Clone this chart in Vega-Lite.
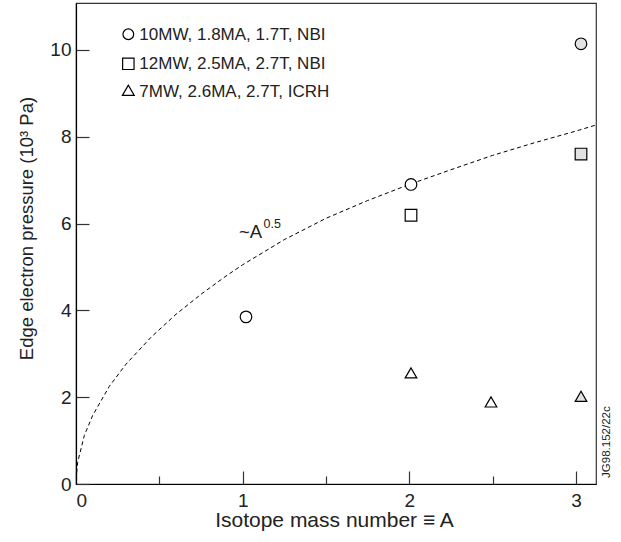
{
  "$schema": "https://vega.github.io/schema/vega-lite/v6.json",
  "autosize": "none",
  "width": 520,
  "height": 481,
  "padding": {"left": 76, "top": 3, "right": 25, "bottom": 58},
  "background": "white",
  "config": {
    "font": "Liberation Sans",
    "view": {"stroke": "#333", "strokeWidth": 1.2},
    "axis": {"grid": false, "domainColor": "black", "domainWidth": 1.2, "tickColor": "#333", "tickWidth": 1.2, "labelColor": "#222", "titleColor": "#222", "labelFont": "Liberation Sans", "titleFont": "Liberation Sans", "titleFontWeight": "normal", "labelFontSize": 19, "titleFontSize": 18.5}
  },
  "datasets": {
    "points": [
      {"A": 1.02, "p": 3.85, "series": "10MW, 1.8MA, 1.7T, NBI"},
      {"A": 2.01, "p": 6.90, "series": "10MW, 1.8MA, 1.7T, NBI"},
      {"A": 3.03, "p": 10.14, "series": "10MW, 1.8MA, 1.7T, NBI"},
      {"A": 2.01, "p": 6.19, "series": "12MW, 2.5MA, 2.7T, NBI"},
      {"A": 3.03, "p": 7.60, "series": "12MW, 2.5MA, 2.7T, NBI"},
      {"A": 2.01, "p": 2.56, "series": "7MW, 2.6MA, 2.7T, ICRH"},
      {"A": 2.49, "p": 1.89, "series": "7MW, 2.6MA, 2.7T, ICRH"},
      {"A": 3.03, "p": 2.02, "series": "7MW, 2.6MA, 2.7T, ICRH"}
    ],
    "curve": [
      {"A": 0.0, "p": 0.1},
      {"A": 0.01, "p": 0.5},
      {"A": 0.05, "p": 1.12},
      {"A": 0.1, "p": 1.58},
      {"A": 0.2, "p": 2.25},
      {"A": 0.3, "p": 2.76},
      {"A": 0.45, "p": 3.38},
      {"A": 0.6, "p": 3.91},
      {"A": 0.75, "p": 4.37},
      {"A": 0.9, "p": 4.79},
      {"A": 1.0, "p": 5.05},
      {"A": 1.25, "p": 5.63},
      {"A": 1.5, "p": 6.12},
      {"A": 1.75, "p": 6.53},
      {"A": 2.0, "p": 6.9},
      {"A": 2.25, "p": 7.24},
      {"A": 2.5, "p": 7.57},
      {"A": 2.75, "p": 7.86},
      {"A": 3.0, "p": 8.13},
      {"A": 3.12, "p": 8.27}
    ],
    "one": [{}]
  },
  "layer": [
    {
      "data": {"name": "curve"},
      "mark": {"type": "line", "color": "black", "strokeWidth": 1, "strokeDash": [4, 3], "clip": true},
      "encoding": {
        "x": {
          "field": "A", "type": "quantitative",
          "scale": {"domain": [0, 3.12], "nice": false, "zero": true},
          "axis": {
            "values": [0, 0.5, 1, 1.5, 2, 2.5, 3],
            "tickSize": {"condition": {"test": "datum.value % 1 !== 0", "value": -8}, "value": -13},
            "labelExpr": "datum.value % 1 === 0 ? format(datum.value, 'd') : ''",
            "labelPadding": 20,
            "title": "Isotope mass number ≡ A",
            "titleFontSize": 21,
            "titleX": 258,
            "titleY": 42,
            "titleBaseline": "alphabetic",
            "titleAlign": "center"
          }
        },
        "y": {
          "field": "p", "type": "quantitative",
          "scale": {"domain": [0, 11.08], "nice": false, "zero": true},
          "axis": {
            "values": [0, 2, 4, 6, 8, 10],
            "tickSize": -13,
            "labelPadding": 18,
            "title": "Edge electron pressure (10³ Pa)",
            "titleX": -44,
            "titleY": 225,
            "titleAngle": 270,
            "titleAlign": "center",
            "titleBaseline": "alphabetic"
          }
        }
      }
    },
    {
      "data": {"name": "points"},
      "mark": {"type": "point", "filled": true, "stroke": "black", "strokeWidth": 1.2, "size": 135, "opacity": 1},
      "encoding": {
        "x": {"field": "A", "type": "quantitative"},
        "y": {"field": "p", "type": "quantitative"},
        "shape": {
          "field": "series", "type": "nominal",
          "scale": {
            "domain": ["10MW, 1.8MA, 1.7T, NBI", "12MW, 2.5MA, 2.7T, NBI", "7MW, 2.6MA, 2.7T, ICRH"],
            "range": ["circle", "square", "triangle-up"]
          },
          "legend": null
        },
        "fill": {"condition": {"test": "datum.A > 2.9", "value": "#e2e2e2"}, "value": "white"}
      }
    },
    {
      "data": {"name": "one"},
      "mark": {"type": "point", "shape": "circle", "size": 115, "filled": true, "fill": "white", "stroke": "black", "strokeWidth": 1.2, "opacity": 1},
      "encoding": {"x": {"datum": 0.314}, "y": {"datum": 10.36}}
    },
    {
      "data": {"name": "one"},
      "mark": {"type": "point", "shape": "square", "size": 130, "filled": true, "fill": "white", "stroke": "black", "strokeWidth": 1.2, "opacity": 1},
      "encoding": {"x": {"datum": 0.314}, "y": {"datum": 9.68}}
    },
    {
      "data": {"name": "one"},
      "mark": {"type": "point", "shape": "triangle-up", "size": 140, "filled": true, "fill": "white", "stroke": "black", "strokeWidth": 1.2, "opacity": 1},
      "encoding": {"x": {"datum": 0.314}, "y": {"datum": 9.07}}
    },
    {
      "data": {"name": "one"},
      "mark": {"type": "text", "align": "left", "baseline": "alphabetic", "fontSize": 17, "font": "Liberation Sans", "color": "#222"},
      "encoding": {"x": {"datum": 0.38}, "y": {"datum": 10.23}, "text": {"value": "10MW, 1.8MA, 1.7T, NBI"}}
    },
    {
      "data": {"name": "one"},
      "mark": {"type": "text", "align": "left", "baseline": "alphabetic", "fontSize": 17, "font": "Liberation Sans", "color": "#222"},
      "encoding": {"x": {"datum": 0.38}, "y": {"datum": 9.57}, "text": {"value": "12MW, 2.5MA, 2.7T, NBI"}}
    },
    {
      "data": {"name": "one"},
      "mark": {"type": "text", "align": "left", "baseline": "alphabetic", "fontSize": 17, "font": "Liberation Sans", "color": "#222"},
      "encoding": {"x": {"datum": 0.38}, "y": {"datum": 8.91}, "text": {"value": "7MW, 2.6MA, 2.7T, ICRH"}}
    },
    {
      "data": {"name": "one"},
      "mark": {"type": "text", "align": "left", "baseline": "alphabetic", "fontSize": 18.5, "font": "Liberation Sans", "color": "#222"},
      "encoding": {"x": {"datum": 0.978}, "y": {"datum": 5.67}, "text": {"value": "~A"}}
    },
    {
      "data": {"name": "one"},
      "mark": {"type": "text", "align": "left", "baseline": "alphabetic", "fontSize": 12.5, "font": "Liberation Sans", "color": "#222"},
      "encoding": {"x": {"datum": 1.125}, "y": {"datum": 5.9}, "text": {"value": "0.5"}}
    },
    {
      "data": {"name": "one"},
      "mark": {"type": "text", "align": "left", "baseline": "alphabetic", "angle": 270, "fontSize": 11.5, "font": "Liberation Sans", "color": "#222"},
      "encoding": {"x": {"datum": 3.205}, "y": {"datum": 0.14}, "text": {"value": "JG98.152/22c"}}
    }
  ]
}
